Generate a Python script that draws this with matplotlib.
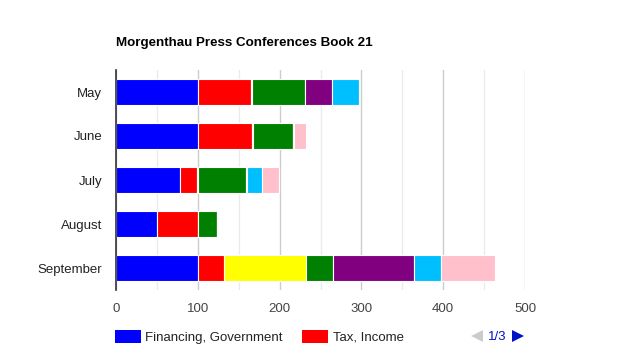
import matplotlib
matplotlib.use("Agg")
import matplotlib.pyplot as plt
import numpy as np
from matplotlib.patches import Rectangle, Polygon

plt.rcParams['font.family'] = ['Liberation Sans', 'DejaVu Sans']

months = ["May", "June", "July", "August", "September"]
series_names = ["Financing, Government", "Tax, Income", "Series 3", "Series 4",
                "Series 5", "Series 6", "Series 7"]
colors = ["#0000ff", "#ff0000", "#ffff00", "#008000", "#800080", "#00bfff", "#ffc0cb"]
financing = [100, 100, 78, 50, 100]
tax_income = [65, 66, 21, 50, 32]
series3 = [1, 1, 1, 0, 100]
series4 = [65, 49, 59, 24, 33]
series5 = [33, 0, 1, 0, 99]
series6 = [33, 1, 18, 1, 33]
series7 = [0, 15, 21, 0, 66]
data = [financing, tax_income, series3, series4, series5, series6, series7]
xticks = [0, 100, 200, 300, 400, 500]

W, H = 640, 360
fig = plt.figure(figsize=(6.4, 3.6), dpi=100)
ax = fig.add_axes([116/W, 1-290/H, 409/W, 220/H])

y = np.arange(len(months))
left = np.zeros(len(months))
for vals, c in zip(data, colors):
    v = np.array(vals, dtype=float)
    ax.barh(y, v, left=left, height=0.61, color=c, edgecolor='white', linewidth=0.8, zorder=3)
    left += v

ax.set_xlim(0, 500)
ax.set_ylim(4.5, -0.5)
ax.set_yticks(y)
ax.set_yticklabels(months, fontsize=9.5, color='#222222')
ax.set_xticks(xticks)
ax.set_xticklabels([str(t) for t in xticks], fontsize=9.5, color='#444444')
ax.set_xticks([50, 150, 250, 350, 450], minor=True)
ax.grid(axis='x', which='major', color='#cccccc', linewidth=1, zorder=0)
ax.grid(axis='x', which='minor', color='#ebebeb', linewidth=1, zorder=0)
ax.tick_params(axis='both', which='both', length=0)
ax.tick_params(axis='y', pad=10)
ax.tick_params(axis='x', pad=9)
for s in ['top', 'right', 'bottom']:
    ax.spines[s].set_visible(False)
ax.spines['left'].set_color('#333333')
ax.spines['left'].set_linewidth(1.2)
ax.spines['left'].set_zorder(4)

fig.text(116/W, 1-43/H, "Morgenthau Press Conferences Book 21", fontsize=9.6,
         fontweight='bold', color='#000000', va='center', ha='left')

# legend
ly = 1-337.5/H
fig.patches.append(Rectangle((115/W, 1-343/H), 26/W, 13/H, transform=fig.transFigure,
                             facecolor=colors[0], edgecolor='none'))
fig.text(145/W, ly, series_names[0], fontsize=9.5, color='#222222', va='center', ha='left')
fig.patches.append(Rectangle((302/W, 1-343/H), 26/W, 13/H, transform=fig.transFigure,
                             facecolor=colors[1], edgecolor='none'))
fig.text(333/W, ly, series_names[1], fontsize=9.5, color='#222222', va='center', ha='left')

def tri(pts, color):
    fig.patches.append(Polygon([(px/W, 1-py/H) for px, py in pts], closed=True,
                               transform=fig.transFigure, facecolor=color, edgecolor='none'))

tri([(471, 336), (483, 330), (483, 342)], '#cccccc')
tri([(512, 330), (524, 336), (512, 342)], '#0011cc')
fig.text(497/W, ly, "1/3", fontsize=9.5, color='#0011cc', va='center', ha='center')

fig.savefig("out.png", dpi=100)
